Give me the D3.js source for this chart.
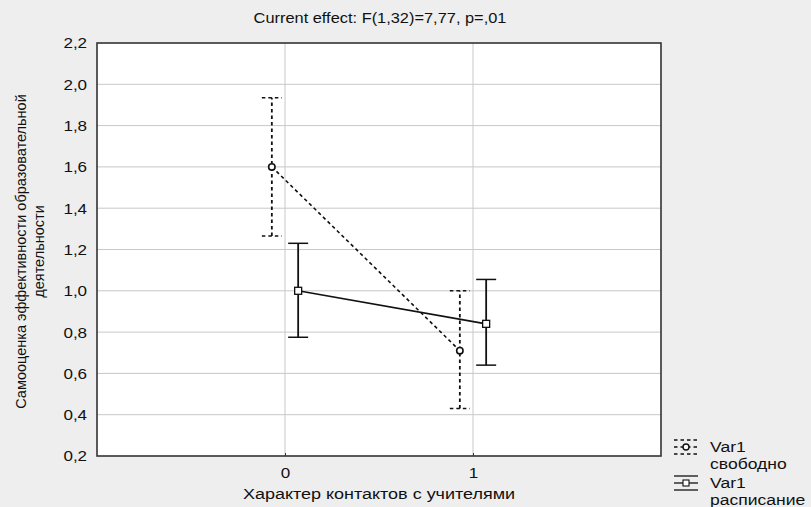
<!DOCTYPE html>
<html lang="ru">
<head>
<meta charset="utf-8">
<title>Current effect</title>
<script src="https://d3js.org/d3.v7.min.js"></script>
<style>
  body { margin: 0; background: #eeeeee; }
  text { font-family: "Liberation Sans", Arial, sans-serif; fill: #111; }
</style>
</head>
<body>
<script>
// Data
var groups = [0, 1];                       // Характер контактов с учителями
var seriesNames = ["свободно", "расписание"];
var meanFree = [1.60, 0.71];
var lowFree  = [1.265, 0.43];
var highFree = [1.935, 1.00];
var meanSched = [1.00, 0.84];
var lowSched  = [0.775, 0.64];
var highSched = [1.23, 1.055];
var yTicks = [0.2, 0.4, 0.6, 0.8, 1.0, 1.2, 1.4, 1.6, 1.8, 2.0, 2.2];
var xTicks = [0, 1];

var width = 811, height = 507;
var m = { left: 97, top: 43, right: 150, bottom: 51 };

var svg = d3.select("body").append("svg")
    .attr("width", width)
    .attr("height", height);

svg.append("rect").attr("width", width).attr("height", height).attr("fill", "#eeeeee");

var x = d3.scaleLinear().domain([-1, 2]).range([m.left, width - m.right]);
var y = d3.scaleLinear().domain([0.2, 2.2]).range([height - m.bottom, m.top]);

// the reference is a bit stretched sideways, so horizontal texts get a scaleX
function wideText(g, tx, ty, sx, size, str, anchor) {
  return g.append("text")
    .attr("transform", "translate(" + tx + "," + ty + ") scale(" + sx + ",1)")
    .attr("text-anchor", anchor || "start")
    .style("font-size", size + "px")
    .text(str);
}

// plot area
svg.append("rect")
    .attr("x", x(-1)).attr("y", y(2.2))
    .attr("width", x(2) - x(-1)).attr("height", y(0.2) - y(2.2))
    .attr("fill", "#fff");

// grid
var grid = svg.append("g");
grid.selectAll("line.h").data(yTicks.slice(1, -1)).enter().append("line")
    .attr("x1", x(-1)).attr("x2", x(2))
    .attr("y1", d => y(d)).attr("y2", d => y(d))
    .attr("stroke", "#c8c8c8").attr("stroke-width", 1);
grid.selectAll("line.v").data(xTicks).enter().append("line")
    .attr("x1", d => x(d)).attr("x2", d => x(d))
    .attr("y1", y(2.2)).attr("y2", y(0.2))
    .attr("stroke", "#c8c8c8").attr("stroke-width", 1);

// frame
svg.append("rect")
    .attr("x", x(-1)).attr("y", y(2.2))
    .attr("width", x(2) - x(-1)).attr("height", y(0.2) - y(2.2))
    .attr("fill", "none").attr("stroke", "#333").attr("stroke-width", 1.6);

// axes
var yAxis = svg.append("g")
    .attr("transform", "translate(" + x(-1) + ",0)")
    .call(d3.axisLeft(y).tickValues(yTicks).tickSize(0).tickPadding(9)
        .tickFormat(d => d3.format(".1f")(d).replace(".", ",")));
yAxis.select(".domain").remove();
yAxis.selectAll("text").style("font-size", "15.5px").attr("fill", "#111")
    .attr("transform", "scale(1.1,1)");

var xAxis = svg.append("g")
    .attr("transform", "translate(0," + y(0.2) + ")")
    .call(d3.axisBottom(x).tickValues(xTicks).tickSize(3).tickPadding(8).tickFormat(d3.format("d")));
xAxis.select(".domain").remove();
xAxis.selectAll("line").attr("stroke", "#333").attr("transform", "translate(0,-3)");
xAxis.selectAll("text").style("font-size", "15.5px").attr("fill", "#111")
    .attr("transform", "scale(1.1,1)");

// titles
wideText(svg, 380, 23, 1.13, 14.5, "Current effect: F(1,32)=7,77, p=,01", "middle");
wideText(svg, (x(-1) + x(2)) / 2, 499, 1.2, 15, "Характер контактов с учителями", "middle");

var yl = svg.append("text")
    .attr("transform", "translate(26," + ((y(0.2) + y(2.2)) / 2 + 2) + ") rotate(-90)")
    .attr("text-anchor", "middle").style("font-size", "14.5px");
yl.append("tspan").attr("x", 0).attr("dy", 0).text("Самооценка эффективности образовательной");
yl.append("tspan").attr("x", 0).attr("dy", 18).text("деятельности");

// series
var offset = 0.07;
var series = [
  { name: seriesNames[0], mean: meanFree, low: lowFree, high: highFree, dx: -offset, dash: "3.5,3", marker: "circle" },
  { name: seriesNames[1], mean: meanSched, low: lowSched, high: highSched, dx: offset, dash: null, marker: "square" }
];

var line = d3.line();
series.forEach(function (s) {
  var g = svg.append("g");
  var pts = groups.map((gv, i) => [x(gv + s.dx), y(s.mean[i])]);
  g.append("path").attr("d", line(pts))
    .attr("fill", "none").attr("stroke", "#111").attr("stroke-width", 1.6)
    .attr("stroke-dasharray", s.dash);
  groups.forEach(function (gv, i) {
    var cx = x(gv + s.dx);
    g.append("line").attr("x1", cx).attr("x2", cx)
      .attr("y1", y(s.low[i])).attr("y2", y(s.high[i]))
      .attr("stroke", "#111").attr("stroke-width", 1.8).attr("stroke-dasharray", s.dash);
    [s.low[i], s.high[i]].forEach(function (v) {
      g.append("line").attr("x1", cx - 10).attr("x2", cx + 10)
        .attr("y1", y(v)).attr("y2", y(v))
        .attr("stroke", "#111").attr("stroke-width", 1.5).attr("stroke-dasharray", s.dash);
    });
    if (s.marker === "circle") {
      g.append("circle").attr("cx", cx).attr("cy", y(s.mean[i])).attr("r", 3.2)
        .attr("fill", "#fff").attr("stroke", "#111").attr("stroke-width", 1.6);
    } else {
      g.append("rect").attr("x", cx - 3.5).attr("y", y(s.mean[i]) - 3.5)
        .attr("width", 7).attr("height", 7)
        .attr("fill", "#fff").attr("stroke", "#111").attr("stroke-width", 1.3);
    }
  });
});

// legend
var legendY = [447, 483];
series.forEach(function (s, i) {
  var ly = legendY[i];
  var lg = svg.append("g");
  [-7, 0, 7].forEach(function (d) {
    lg.append("line").attr("x1", 674).attr("x2", 698)
      .attr("y1", ly + d).attr("y2", ly + d)
      .attr("stroke", "#111").attr("stroke-width", 1.3).attr("stroke-dasharray", s.dash);
  });
  if (s.marker === "circle") {
    lg.append("circle").attr("cx", 686).attr("cy", ly).attr("r", 3)
      .attr("fill", "#fff").attr("stroke", "#111").attr("stroke-width", 1.4);
  } else {
    lg.append("rect").attr("x", 683).attr("y", ly - 3).attr("width", 6).attr("height", 6)
      .attr("fill", "#fff").attr("stroke", "#111").attr("stroke-width", 1.1);
  }
  wideText(lg, 710, ly + 5, 1.17, 15, "Var1");
  wideText(lg, 710, ly + 22, 1.17, 15, s.name);
});
</script>
</body>
</html>
